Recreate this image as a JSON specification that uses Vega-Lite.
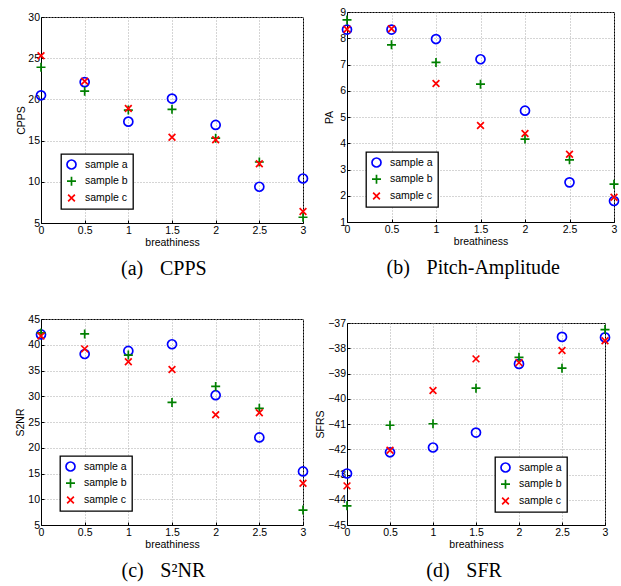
{
  "$schema": "https://vega.github.io/schema/vega-lite/v6.json",
  "padding": {"left": 15, "top": 6, "right": 0, "bottom": 0},
  "background": "white",
  "config": {
    "font": "Liberation Sans",
    "view": {"stroke": "black", "strokeWidth": 1},
    "axis": {
      "domainColor": "black",
      "domainWidth": 1,
      "tickColor": "black",
      "tickSize": -3,
      "labelColor": "black",
      "titleColor": "black",
      "labelFont": "Liberation Sans",
      "titleFont": "Liberation Sans",
      "labelFontSize": 10.5,
      "titleFontSize": 10.5,
      "titleFontWeight": "normal",
      "labelFlush": false,
      "labelOverlap": false,
      "grid": true,
      "gridColor": "#aaaaaa",
      "gridDash": [1, 2],
      "gridWidth": 1
    },
    "axisX": {"labelPadding": 5.6, "titlePadding": 1.3},
    "axisY": {"labelPadding": 4.5},
    "legend": {
      "orient": "none",
      "strokeColor": "black",
      "strokeWidth": 1.3,
      "fillColor": "white",
      "cornerRadius": 0,
      "padding": 5,
      "labelFont": "Liberation Sans",
      "labelFontSize": 10.5,
      "labelColor": "black",
      "labelOffset": 8,
      "symbolStrokeWidth": 1.7,
      "symbolOpacity": 1
    },
    "title": {
      "font": "Liberation Serif",
      "fontSize": 20,
      "fontWeight": "normal",
      "color": "black",
      "orient": "bottom",
      "anchor": "middle",
      "frame": "bounds",
      "baseline": "top",
      "offset": 11
    },
    "point": {"filled": false, "size": 81, "strokeWidth": 1.7, "opacity": 1}
  },
  "datasets": {
    "cpps": [
      {"breathiness": 0, "value": 20.5, "sample": "sample a"},
      {"breathiness": 0.5, "value": 22.1, "sample": "sample a"},
      {"breathiness": 1, "value": 17.3, "sample": "sample a"},
      {"breathiness": 1.5, "value": 20.1, "sample": "sample a"},
      {"breathiness": 2, "value": 16.9, "sample": "sample a"},
      {"breathiness": 2.5, "value": 9.4, "sample": "sample a"},
      {"breathiness": 3, "value": 10.4, "sample": "sample a"},
      {"breathiness": 0, "value": 23.9, "sample": "sample b"},
      {"breathiness": 0.5, "value": 21.0, "sample": "sample b"},
      {"breathiness": 1, "value": 18.7, "sample": "sample b"},
      {"breathiness": 1.5, "value": 18.8, "sample": "sample b"},
      {"breathiness": 2, "value": 15.3, "sample": "sample b"},
      {"breathiness": 2.5, "value": 12.4, "sample": "sample b"},
      {"breathiness": 3, "value": 5.7, "sample": "sample b"},
      {"breathiness": 0, "value": 25.3, "sample": "sample c"},
      {"breathiness": 0.5, "value": 22.2, "sample": "sample c"},
      {"breathiness": 1, "value": 18.9, "sample": "sample c"},
      {"breathiness": 1.5, "value": 15.4, "sample": "sample c"},
      {"breathiness": 2, "value": 15.1, "sample": "sample c"},
      {"breathiness": 2.5, "value": 12.2, "sample": "sample c"},
      {"breathiness": 3, "value": 6.4, "sample": "sample c"}
    ],
    "pa": [
      {"breathiness": 0, "value": 8.33, "sample": "sample a"},
      {"breathiness": 0.5, "value": 8.33, "sample": "sample a"},
      {"breathiness": 1, "value": 7.97, "sample": "sample a"},
      {"breathiness": 1.5, "value": 7.2, "sample": "sample a"},
      {"breathiness": 2, "value": 5.24, "sample": "sample a"},
      {"breathiness": 2.5, "value": 2.51, "sample": "sample a"},
      {"breathiness": 3, "value": 1.8, "sample": "sample a"},
      {"breathiness": 0, "value": 8.7, "sample": "sample b"},
      {"breathiness": 0.5, "value": 7.75, "sample": "sample b"},
      {"breathiness": 1, "value": 7.08, "sample": "sample b"},
      {"breathiness": 1.5, "value": 6.25, "sample": "sample b"},
      {"breathiness": 2, "value": 4.16, "sample": "sample b"},
      {"breathiness": 2.5, "value": 3.37, "sample": "sample b"},
      {"breathiness": 3, "value": 2.44, "sample": "sample b"},
      {"breathiness": 0, "value": 8.34, "sample": "sample c"},
      {"breathiness": 0.5, "value": 8.36, "sample": "sample c"},
      {"breathiness": 1, "value": 6.28, "sample": "sample c"},
      {"breathiness": 1.5, "value": 4.68, "sample": "sample c"},
      {"breathiness": 2, "value": 4.37, "sample": "sample c"},
      {"breathiness": 2.5, "value": 3.58, "sample": "sample c"},
      {"breathiness": 3, "value": 1.94, "sample": "sample c"}
    ],
    "s2nr": [
      {"breathiness": 0, "value": 42.0, "sample": "sample a"},
      {"breathiness": 0.5, "value": 38.2, "sample": "sample a"},
      {"breathiness": 1, "value": 38.8, "sample": "sample a"},
      {"breathiness": 1.5, "value": 40.1, "sample": "sample a"},
      {"breathiness": 2, "value": 30.2, "sample": "sample a"},
      {"breathiness": 2.5, "value": 22.0, "sample": "sample a"},
      {"breathiness": 3, "value": 15.4, "sample": "sample a"},
      {"breathiness": 0, "value": 42.3, "sample": "sample b"},
      {"breathiness": 0.5, "value": 42.1, "sample": "sample b"},
      {"breathiness": 1, "value": 38.0, "sample": "sample b"},
      {"breathiness": 1.5, "value": 28.8, "sample": "sample b"},
      {"breathiness": 2, "value": 31.9, "sample": "sample b"},
      {"breathiness": 2.5, "value": 27.65, "sample": "sample b"},
      {"breathiness": 3, "value": 7.9, "sample": "sample b"},
      {"breathiness": 0, "value": 41.7, "sample": "sample c"},
      {"breathiness": 0.5, "value": 39.2, "sample": "sample c"},
      {"breathiness": 1, "value": 36.7, "sample": "sample c"},
      {"breathiness": 1.5, "value": 35.2, "sample": "sample c"},
      {"breathiness": 2, "value": 26.4, "sample": "sample c"},
      {"breathiness": 2.5, "value": 26.8, "sample": "sample c"},
      {"breathiness": 3, "value": 13.1, "sample": "sample c"}
    ],
    "sfr": [
      {"breathiness": 0, "value": -42.96, "sample": "sample a"},
      {"breathiness": 0.5, "value": -42.12, "sample": "sample a"},
      {"breathiness": 1, "value": -41.93, "sample": "sample a"},
      {"breathiness": 1.5, "value": -41.34, "sample": "sample a"},
      {"breathiness": 2, "value": -38.62, "sample": "sample a"},
      {"breathiness": 2.5, "value": -37.55, "sample": "sample a"},
      {"breathiness": 3, "value": -37.57, "sample": "sample a"},
      {"breathiness": 0, "value": -44.24, "sample": "sample b"},
      {"breathiness": 0.5, "value": -41.05, "sample": "sample b"},
      {"breathiness": 1, "value": -40.99, "sample": "sample b"},
      {"breathiness": 1.5, "value": -39.58, "sample": "sample b"},
      {"breathiness": 2, "value": -38.36, "sample": "sample b"},
      {"breathiness": 2.5, "value": -38.79, "sample": "sample b"},
      {"breathiness": 3, "value": -37.26, "sample": "sample b"},
      {"breathiness": 0, "value": -43.45, "sample": "sample c"},
      {"breathiness": 0.5, "value": -42.04, "sample": "sample c"},
      {"breathiness": 1, "value": -39.67, "sample": "sample c"},
      {"breathiness": 1.5, "value": -38.42, "sample": "sample c"},
      {"breathiness": 2, "value": -38.57, "sample": "sample c"},
      {"breathiness": 2.5, "value": -38.09, "sample": "sample c"},
      {"breathiness": 3, "value": -37.7, "sample": "sample c"}
    ]
  },
  "spacing": 2,
  "hconcat": [
    {
      "bounds": "flush",
      "spacing": 4,
      "vconcat": [
        {
          "width": 1,
          "height": 1,
          "data": {"values": []},
          "mark": {"type": "point"},
          "view": {"stroke": null, "fill": null}
        },
        {
          "bounds": "flush",
          "spacing": 96,
          "vconcat": [
            {
              "data": {"name": "cpps"},
              "width": 262,
              "height": 206,
              "title": {"text": "(a)\u2002\u2004CPPS"},
              "mark": {"type": "point"},
              "encoding": {
                "x": {"field": "breathiness", "type": "quantitative", "scale": {"domain": [0, 3], "nice": false, "zero": false}, "axis": {"values": [0, 0.5, 1, 1.5, 2, 2.5, 3], "format": "~g", "title": "breathiness"}},
                "y": {"field": "value", "type": "quantitative", "scale": {"domain": [5, 30], "nice": false, "zero": false}, "axis": {"values": [5, 10, 15, 20, 25, 30], "format": "~g", "title": "CPPS", "titlePadding": 1}},
                "color": {"field": "sample", "type": "nominal", "scale": {"domain": ["sample a", "sample b", "sample c"], "range": ["#0000ff", "#008000", "#ff0000"]}, "legend": {"title": null, "legendX": 20, "legendY": 137, "symbolSize": 81, "clipHeight": 11, "rowPadding": 5.7}},
                "shape": {"field": "sample", "type": "nominal", "scale": {"domain": ["sample a", "sample b", "sample c"], "range": ["circle", "M-1,0H1M0,-1V1", "M-0.75,-0.75L0.75,0.75M0.75,-0.75L-0.75,0.75"]}}
              }
            },
            {
              "data": {"name": "s2nr"},
              "width": 262,
              "height": 206,
              "title": {"text": "(c)\u2002\u2004S\u00b2NR"},
              "mark": {"type": "point"},
              "encoding": {
                "x": {"field": "breathiness", "type": "quantitative", "scale": {"domain": [0, 3], "nice": false, "zero": false}, "axis": {"values": [0, 0.5, 1, 1.5, 2, 2.5, 3], "format": "~g", "title": "breathiness"}},
                "y": {"field": "value", "type": "quantitative", "scale": {"domain": [5, 45], "nice": false, "zero": false}, "axis": {"values": [5, 10, 15, 20, 25, 30, 35, 40, 45], "format": "~g", "title": "S2NR", "titlePadding": 2}},
                "color": {"field": "sample", "type": "nominal", "scale": {"domain": ["sample a", "sample b", "sample c"], "range": ["#0000ff", "#008000", "#ff0000"]}, "legend": {"title": null, "legendX": 19, "legendY": 137, "symbolSize": 81, "clipHeight": 11, "rowPadding": 5.7}},
                "shape": {"field": "sample", "type": "nominal", "scale": {"domain": ["sample a", "sample b", "sample c"], "range": ["circle", "M-1,0H1M0,-1V1", "M-0.75,-0.75L0.75,0.75M0.75,-0.75L-0.75,0.75"]}}
              }
            }
          ],
          "resolve": {"scale": {"color": "independent", "shape": "independent"}}
        }
      ],
      "resolve": {"scale": {"color": "independent", "shape": "independent"}}
    },
    {
      "bounds": "flush",
      "spacing": 101,
      "vconcat": [
        {
          "data": {"name": "pa"},
          "width": 267,
          "height": 210,
          "title": {"text": "(b)\u2002\u2004Pitch-Amplitude"},
          "mark": {"type": "point"},
          "encoding": {
            "x": {"field": "breathiness", "type": "quantitative", "scale": {"domain": [0, 3], "nice": false, "zero": false}, "axis": {"values": [0, 0.5, 1, 1.5, 2, 2.5, 3], "format": "~g", "title": "breathiness"}},
            "y": {"field": "value", "type": "quantitative", "scale": {"domain": [1, 9], "nice": false, "zero": false}, "axis": {"values": [1, 2, 3, 4, 5, 6, 7, 8, 9], "format": "~g", "title": "PA", "titlePadding": 5}},
            "color": {"field": "sample", "type": "nominal", "scale": {"domain": ["sample a", "sample b", "sample c"], "range": ["#0000ff", "#008000", "#ff0000"]}, "legend": {"title": null, "legendX": 19, "legendY": 140, "symbolSize": 81, "clipHeight": 11, "rowPadding": 5.7}},
            "shape": {"field": "sample", "type": "nominal", "scale": {"domain": ["sample a", "sample b", "sample c"], "range": ["circle", "M-1,0H1M0,-1V1", "M-0.75,-0.75L0.75,0.75M0.75,-0.75L-0.75,0.75"]}}
          }
        },
        {
          "data": {"name": "sfr"},
          "width": 258,
          "height": 202,
          "title": {"text": "(d)\u2002\u2004SFR"},
          "mark": {"type": "point"},
          "encoding": {
            "x": {"field": "breathiness", "type": "quantitative", "scale": {"domain": [0, 3], "nice": false, "zero": false}, "axis": {"values": [0, 0.5, 1, 1.5, 2, 2.5, 3], "format": "~g", "title": "breathiness"}},
            "y": {"field": "value", "type": "quantitative", "scale": {"domain": [-45, -37], "nice": false, "zero": false}, "axis": {"values": [-45, -44, -43, -42, -41, -40, -39, -38, -37], "format": "~g", "title": "SFRS", "titlePadding": 2.5}},
            "color": {"field": "sample", "type": "nominal", "scale": {"domain": ["sample a", "sample b", "sample c"], "range": ["#0000ff", "#008000", "#ff0000"]}, "legend": {"title": null, "legendX": 148, "legendY": 134, "symbolSize": 81, "clipHeight": 11, "rowPadding": 5.7}},
            "shape": {"field": "sample", "type": "nominal", "scale": {"domain": ["sample a", "sample b", "sample c"], "range": ["circle", "M-1,0H1M0,-1V1", "M-0.75,-0.75L0.75,0.75M0.75,-0.75L-0.75,0.75"]}}
          }
        }
      ],
      "resolve": {"scale": {"color": "independent", "shape": "independent"}}
    }
  ],
  "resolve": {"scale": {"color": "independent", "shape": "independent"}}
}
